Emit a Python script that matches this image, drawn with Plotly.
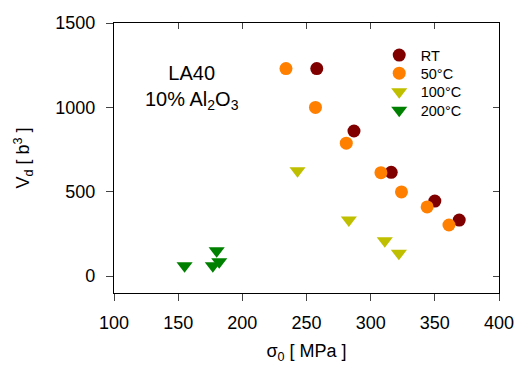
import plotly.graph_objects as go

rt_x = [258, 287, 316, 350, 369]
rt_y = [1230, 860, 615, 445, 332]
c50_x = [234, 257, 281, 308, 324, 344, 361]
c50_y = [1230, 1000, 788, 613, 499, 410, 303]
c100_x = [243, 283, 311, 322]
c100_y = [625, 332, 210, 135]
c200_x = [155, 180, 177, 182]
c200_y = [61, 150, 61, 85]

x_ticks = [100, 150, 200, 250, 300, 350, 400]
y_ticks = [0, 500, 1000, 1500]

series = [
    ("RT", rt_x, rt_y, "circle", "#800000"),
    ("50°C", c50_x, c50_y, "circle", "#ff8000"),
    ("100°C", c100_x, c100_y, "triangle-down", "#bfbf00"),
    ("200°C", c200_x, c200_y, "triangle-down", "#008000"),
]
legend_rows = [0.881, 0.814, 0.745, 0.677]
legend_ids = ["legend", "legend2", "legend3", "legend4"]

fig = go.Figure()
for (name, xs, ys, sym, col), lid in zip(series, legend_ids):
    fig.add_trace(go.Scatter(
        x=xs, y=ys, mode="markers", name=name, legend=lid,
        marker=dict(symbol=sym, size=13 if sym == "circle" else 14, color=col, line=dict(width=0)),
    ))

font = "Liberation Sans, Arial, sans-serif"
legend_common = dict(x=0.685, xanchor="left", yanchor="middle",
                     font=dict(size=14.5), bgcolor="rgba(0,0,0,0)",
                     itemwidth=33, tracegroupgap=0)
layout_legends = {lid: dict(y=ry, **legend_common) for lid, ry in zip(legend_ids, legend_rows)}

fig.update_layout(
    width=519, height=370,
    margin=dict(l=114, r=20, t=23, b=77, autoexpand=False),
    paper_bgcolor="white", plot_bgcolor="white",
    font=dict(family=font, size=18, color="black"),
    showlegend=True,
    xaxis=dict(range=[100, 400], tickvals=x_ticks, ticks="outside", ticklen=7,
               tickwidth=1.3, linecolor="black", linewidth=1.3, showgrid=False,
               zeroline=False, showline=True, automargin=False, ticklabelstandoff=6,
               title=dict(text="σ<sub>0</sub> [ MPa ]", font=dict(size=18), standoff=12)),
    yaxis=dict(range=[-100, 1500], tickvals=y_ticks, ticks="outside", ticklen=7,
               tickwidth=1.3, linecolor="black", linewidth=1.3, showgrid=False,
               zeroline=False, showline=True, automargin=False, ticklabelstandoff=7,
               title=dict(text="V<sub>d</sub> [ b<sup>3</sup> ]", font=dict(size=18), standoff=20)),
    xaxis2=dict(range=[100, 400], tickvals=x_ticks, ticks="inside", ticklen=6,
                tickwidth=1.3, overlaying="x", side="top", showticklabels=False, automargin=False,
                showgrid=False, zeroline=False, showline=True, linecolor="black", linewidth=1.3),
    yaxis2=dict(range=[-100, 1500], tickvals=y_ticks, ticks="inside", ticklen=6,
                tickwidth=1.3, overlaying="y", side="right", showticklabels=False, automargin=False,
                showgrid=False, zeroline=False, showline=True, linecolor="black", linewidth=1.3),
    **layout_legends,
)
fig.add_trace(go.Scatter(x=[None], y=[None], xaxis="x2", yaxis="y2", showlegend=False, hoverinfo="skip"))

fig.add_annotation(x=0.203, y=0.76, xref="paper", yref="paper",
                   text="LA40<br>10% Al<sub>2</sub>O<sub>3</sub>", showarrow=False,
                   font=dict(size=20), align="center", xanchor="center", yanchor="middle")

fig.write_html("out.html")
